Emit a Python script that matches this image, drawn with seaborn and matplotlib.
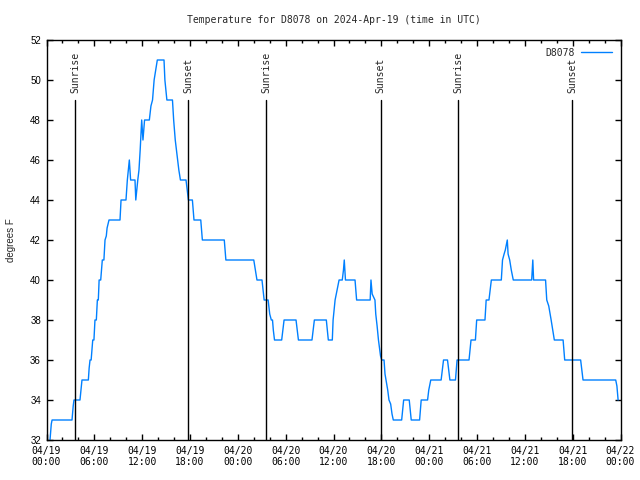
import matplotlib
matplotlib.use("Agg")
import matplotlib.pyplot as plt
import numpy as np
import pandas as pd
import seaborn as sns

# ---- data (hours since 2024-04-19 00:00 UTC, temperature in F) ----
hours = [0.44, 0.6, 0.7, 3.2, 3.35, 3.45, 4.2, 4.45, 5.25, 5.35, 5.46, 5.6, 5.7, 5.8,
         5.95, 6.08, 6.25, 6.38, 6.5, 6.6, 6.8, 6.9, 7.0, 7.2, 7.34, 7.5, 7.6, 7.84,
         9.22, 9.35, 9.97, 10.14, 10.39, 10.55, 11.1, 11.2, 11.45, 11.6, 11.75, 11.94,
         12.1, 12.3, 12.9, 13.1, 13.3, 13.5, 13.9, 14.74, 14.85, 15.1, 15.8,
         15.95, 16.05, 16.15, 16.3, 16.45, 16.6, 16.8, 17.5, 17.8, 18.3, 18.5, 19.35,
         19.55, 22.3, 22.5, 26.0,
         26.4, 27.03, 27.3, 27.8, 28.0, 28.2, 28.35, 28.45, 28.6, 29.5, 29.8, 31.3, 31.6,
         33.3, 33.6, 35.1, 35.35, 35.85, 35.95, 36.2, 36.45, 36.7, 37.1, 37.25, 37.35,
         37.5, 38.7, 38.9, 40.6, 40.7, 40.85, 41.2, 41.3, 41.47, 41.64, 41.9, 42.05, 42.34,
         42.46, 42.59, 42.8, 42.96, 43.17, 43.34, 43.5, 44.55, 44.8, 45.5, 45.75, 46.8,
         47.0, 47.8, 47.95, 48.2, 49.5, 49.8, 50.3, 50.6, 51.3, 51.5, 53.0, 53.25, 53.8,
         53.88, 53.96, 55.0, 55.15, 55.5, 55.65, 55.8, 57.05, 57.2, 57.4, 57.55, 57.7,
         57.8, 57.9, 58.1, 58.3, 58.55, 60.86, 61.0, 61.1, 62.6, 62.75, 63.0, 63.3, 63.5,
         63.7, 64.8, 65.0, 67.0, 67.3, 71.4, 71.55, 71.7]
temps = [32, 32.8, 33, 33, 33.7, 34, 34, 35, 35, 35.6, 36, 36, 36.5, 37,
         37, 38, 38, 39, 39, 40, 40, 40.5, 41, 41, 42, 42.2, 42.6, 43,
         43, 44, 44, 45, 46, 45, 45, 44, 45, 45.5, 46.5, 48,
         47, 48, 48, 48.7, 49, 50, 51, 51, 50, 49, 49,
         48, 47.5, 47, 46.5, 46, 45.5, 45, 45, 44, 44, 43, 43,
         42, 42, 41, 41,
         40, 40, 39, 39, 38.3, 38, 38, 37.5, 37, 37, 38, 38, 37,
         37, 38, 38, 37, 37, 38, 39, 39.5, 40, 40, 40.5, 41,
         40, 40, 39, 39, 40, 39.3, 39, 38.3, 37.7, 37, 36.2, 36, 36,
         35.3, 35, 34.5, 34, 33.8, 33.3, 33, 33, 34, 34, 33, 33,
         34, 34, 34.5, 35, 35, 36, 36, 35, 35, 36, 36, 37, 37,
         37.5, 38, 38, 39, 39, 39.5, 40, 40, 41, 41.3, 41.5, 41.8,
         42, 41.3, 41, 40.5, 40, 40, 41, 40, 40, 39, 38.7, 38, 37.5,
         37, 37, 36, 36, 35, 35, 34.7, 34]
series_name = "D8078"

event_hours = [3.61, 17.79, 27.57, 41.92, 51.66, 65.96]
event_labels = ["Sunrise", "Sunset", "Sunrise", "Sunset", "Sunrise", "Sunset"]

tick_hours = [0, 6, 12, 18, 24, 30, 36, 42, 48, 54, 60, 66, 72]
tick_labels = ["04/19\n00:00", "04/19\n06:00", "04/19\n12:00", "04/19\n18:00",
               "04/20\n00:00", "04/20\n06:00", "04/20\n12:00", "04/20\n18:00",
               "04/21\n00:00", "04/21\n06:00", "04/21\n12:00", "04/21\n18:00",
               "04/22\n00:00"]
minor_tick_hours = [h for h in range(0, 73, 2)]
y_ticks = [32, 34, 36, 38, 40, 42, 44, 46, 48, 50, 52]

title = "Temperature for D8078 on 2024-Apr-19 (time in UTC)"
ylabel = "degrees F"

# ---- style ----
sns.set_style("ticks")
mono = "DejaVu Sans Mono"
sans = "Liberation Sans"
line_color = "#0080ff"

fig = plt.figure(figsize=(6.4, 4.8), dpi=100)
ax = fig.add_axes([46.5 / 640, 40 / 480, 574 / 640, 400 / 480])

df = pd.DataFrame({"hour": hours, "temp": temps, "station": series_name})
sns.lineplot(data=df, x="hour", y="temp", hue="station", palette=[line_color],
             estimator=None, sort=False, linewidth=1.0, ax=ax)

ax.set_xlim(0, 72)
ax.set_ylim(32, 52)

line_top = 49.0
for h, lab in zip(event_hours, event_labels):
    ax.axvline(h, ymin=0, ymax=(line_top - 32) / 20, color="black", lw=1.0)
    ax.text(h, line_top + 0.35, lab, rotation=90, ha="center", va="bottom",
            fontsize=7, family=mono)

ax.set_xticks(tick_hours)
ax.set_xticklabels(tick_labels, family=mono, fontsize=7)
ax.set_xticks(minor_tick_hours, minor=True)
ax.set_yticks(y_ticks)
ax.set_yticklabels([str(v) for v in y_ticks], family=sans, fontsize=7)

ax.tick_params(which="major", direction="in", top=True, right=True,
               length=4.5, width=1.0, colors="black", pad=4)
ax.tick_params(which="minor", direction="in", top=True, right=True,
               length=2.2, width=1.0, colors="black")
ax.tick_params(axis="y", which="minor", left=False, right=False)

for s in ax.spines.values():
    s.set_color("black")
    s.set_linewidth(1.0)

ax.set_xlabel("")
ax.set_ylabel(ylabel, family=sans, fontsize=7, labelpad=10)
ax.set_title(title, family=mono, fontsize=7, pad=12)

leg = ax.legend(loc="upper right", bbox_to_anchor=(0.995, 0.995), frameon=False,
                markerfirst=False, handlelength=3.2, handletextpad=0.6,
                prop={"family": mono, "size": 7}, borderaxespad=0.2)
for l in leg.get_lines():
    l.set_linewidth(1.0)

fig.savefig("out.png", dpi=100)
